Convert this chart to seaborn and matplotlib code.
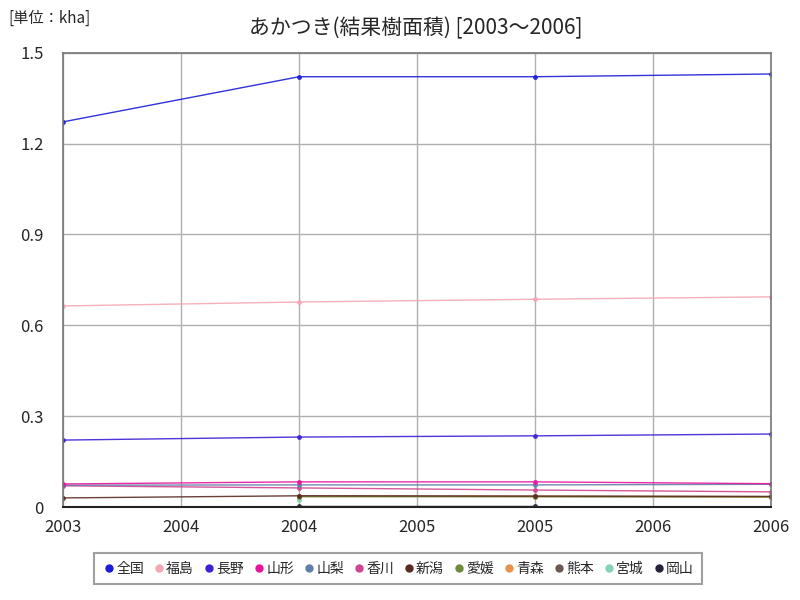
"""
あかつき(結果樹面積) 2003～2006 の推移グラフ
"""
import numpy as np
import pandas as pd
import matplotlib
matplotlib.use('Agg')
import matplotlib.pyplot as plt
import seaborn as sns

# データ (単位: kha)
years = [2003, 2004, 2005, 2006]
prefectures = ['全国', '福島', '長野', '山形', '山梨', '香川', '新潟', '愛媛', '青森', '熊本', '宮城', '岡山']
v_zenkoku = [1.272, 1.421, 1.421, 1.430]
v_fukushima = [0.664, 0.677, 0.686, 0.694]
v_nagano = [0.221, 0.231, 0.235, 0.241]
v_yamagata = [0.076, 0.083, 0.083, 0.077]
v_yamanashi = [0.072, 0.073, 0.073, 0.075]
v_kagawa = [0.070, 0.063, 0.056, 0.050]
v_niigata = [0.030, 0.037, 0.036, 0.035]
v_ehime = [np.nan, 0.034, 0.034, 0.033]
v_aomori = [np.nan, 0.035, 0.035, 0.034]
v_kumamoto = [np.nan, 0.036, 0.035, 0.034]
v_miyagi = [np.nan, 0.022, np.nan, np.nan]
v_okayama = [np.nan, 0.002, 0.002, np.nan]

x_tick_pos = [2003, 2003.5, 2004, 2004.5, 2005, 2005.5, 2006]
x_tick_labels = ['2003', '2004', '2004', '2005', '2005', '2006', '2006']
y_ticks = [0, 0.3, 0.6, 0.9, 1.2, 1.5]
y_tick_labels = ['0', '0.3', '0.6', '0.9', '1.2', '1.5']

colors = ['#1c1cd8', '#f4a7b4', '#3d1fd6', '#e8139b', '#5f7fa8', '#d1448f',
          '#5a2b22', '#6e8b3d', '#e8924a', '#6b5954', '#86d2b4', '#23233a']

series = [v_zenkoku, v_fukushima, v_nagano, v_yamagata, v_yamanashi, v_kagawa,
          v_niigata, v_ehime, v_aomori, v_kumamoto, v_miyagi, v_okayama]

records = []
for name, vals in zip(prefectures, series):
    for y, v in zip(years, vals):
        records.append({'year': y, 'value': v, 'pref': name})
df = pd.DataFrame(records)

sns.set_style('white')
plt.rcParams['font.family'] = ['Noto Sans CJK JP', 'DejaVu Sans']

fig = plt.figure(figsize=(8, 6), dpi=100)
ax = fig.add_axes([0.079, 0.155, 0.885, 0.757])

# 描画順: 全国を最前面に
for name, color in reversed(list(zip(prefectures, colors))):
    sub = df[df['pref'] == name].dropna()
    sns.lineplot(data=sub, x='year', y='value', ax=ax, color=color,
                 marker='o', markersize=3.5, markeredgewidth=0,
                 linewidth=1.0, alpha=0.9, label=name, legend=False)

ax.set_xlim(2003, 2006)
ax.set_ylim(0, 1.5)
ax.set_xticks(x_tick_pos)
ax.set_xticklabels(x_tick_labels, fontsize=12)
ax.set_yticks(y_ticks)
ax.set_yticklabels(y_tick_labels, fontsize=12)
ax.set_xlabel('')
ax.set_ylabel('')
ax.tick_params(axis='x', length=0, pad=9)
ax.tick_params(axis='y', length=0, pad=14)
ax.grid(True, color='#b0b0b0', linewidth=1.0)

for side in ['left', 'right', 'top']:
    ax.spines[side].set_color('#777777')
    ax.spines[side].set_linewidth(1.2)
ax.spines['bottom'].set_color('#222222')
ax.spines['bottom'].set_linewidth(1.5)

fig.text(0.52, 0.953, 'あかつき(結果樹面積) [2003～2006]', ha='center', va='center', fontsize=15)
fig.text(0.01, 0.97, '[単位：kha]', ha='left', va='center', fontsize=11)

handles = [plt.Line2D([], [], color=c, marker='o', linestyle='', markersize=5)
           for c in colors]
leg = fig.legend(handles, prefectures, loc='lower center', bbox_to_anchor=(0.4975, 0.015),
                 ncol=12, fontsize=10, frameon=True, handletextpad=0.0,
                 columnspacing=0.6, handlelength=1.0, borderpad=0.6, fancybox=False)
leg.get_frame().set_edgecolor('#888888')
leg.get_frame().set_linewidth(1.5)

plt.savefig('out.png', dpi=100)
plt.close()
